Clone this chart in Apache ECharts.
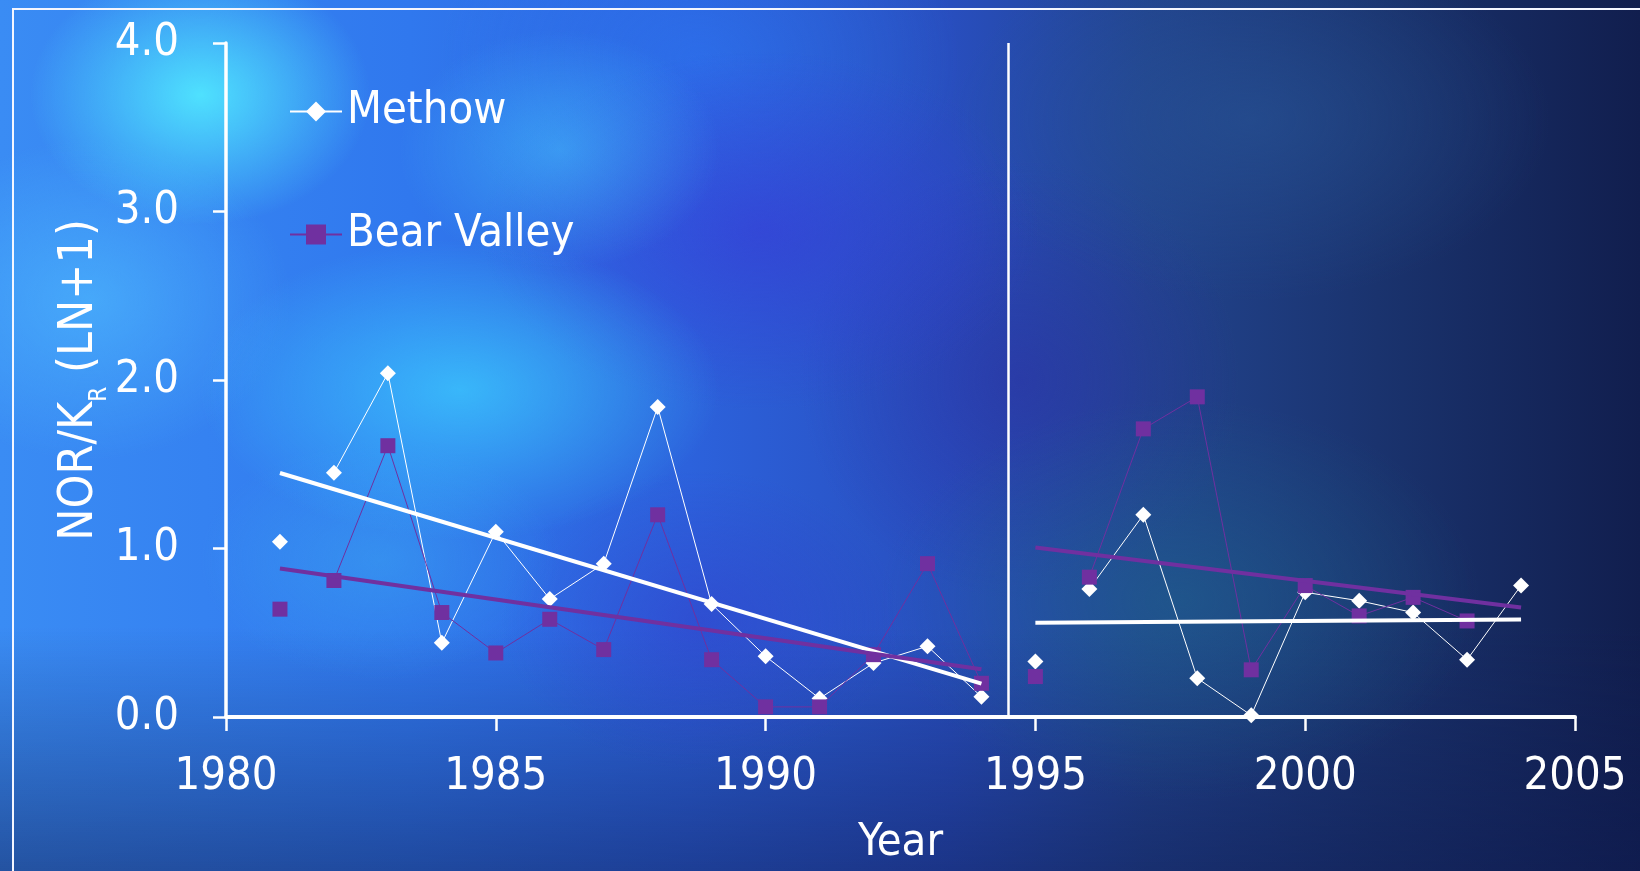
<!DOCTYPE html>
<html>
<head>
<meta charset="utf-8">
<script src="https://cdn.jsdelivr.net/npm/echarts@6/dist/echarts.min.js"></script>
<style>
  html, body { margin: 0; padding: 0; width: 1640px; height: 871px; overflow: hidden; }
  body {
    background:
      radial-gradient(ellipse 170px 130px at 200px 95px, rgba(80,230,255,0.95), rgba(80,230,255,0)),
      radial-gradient(ellipse 260px 150px at 460px 390px, rgba(60,205,255,0.75), rgba(60,205,255,0)),
      radial-gradient(ellipse 160px 120px at 560px 150px, rgba(70,200,255,0.5), rgba(70,200,255,0)),
      radial-gradient(ellipse 200px 160px at 90px 300px, rgba(80,190,255,0.6), rgba(80,190,255,0)),
      radial-gradient(ellipse 180px 120px at 380px 560px, rgba(60,170,240,0.45), rgba(60,170,240,0)),
      radial-gradient(ellipse 280px 180px at 760px 230px, rgba(55,60,215,0.65), rgba(55,60,215,0)),
      radial-gradient(ellipse 200px 150px at 700px 620px, rgba(50,60,200,0.5), rgba(50,60,200,0)),
      radial-gradient(ellipse 260px 200px at 700px 60px, rgba(45,120,245,0.5), rgba(45,120,245,0)),
      radial-gradient(ellipse 300px 200px at 1180px 600px, rgba(30,100,140,0.55), rgba(30,100,140,0)),
      radial-gradient(ellipse 300px 180px at 1250px 120px, rgba(40,85,150,0.55), rgba(40,85,150,0)),
      radial-gradient(ellipse 220px 220px at 1020px 380px, rgba(45,45,160,0.5), rgba(45,45,160,0)),
      linear-gradient(to bottom, rgba(10,20,70,0) 0%, rgba(10,20,70,0) 72%, rgba(14,26,80,0.5) 100%),
      linear-gradient(to right, #3a8cf4 0%, #3078ee 25%, #2c62dc 42%, #284ebe 58%, #22448f 70%, #1a336e 84%, #111e4e 100%);
  }
  #frame { position: absolute; left: 12px; top: 8px; width: 1700px; height: 900px; border-top: 2px solid #f4f6ff; border-left: 2px solid #f4f6ff; }
  #chart { position: absolute; left: 0; top: 0; width: 1640px; height: 871px; }
</style>
</head>
<body>
<div id="frame"></div>
<div id="chart"></div>
<script>
// ---- data ----
const years = [1981, 1982, 1983, 1984, 1985, 1986, 1987, 1988, 1989, 1990, 1991, 1992,
               1993, 1994, 1995, 1996, 1997, 1998, 1999, 2000, 2001, 2002, 2003, 2004];
const methow = [1.04, 1.45, 2.04, 0.44, 1.10, 0.70, 0.91, 1.84, 0.67, 0.36, 0.11, 0.32,
                0.42, 0.12, 0.33, 0.76, 1.20, 0.23, 0.01, 0.74, 0.69, 0.62, 0.34, 0.78];
const bearValley = [0.64, 0.81, 1.61, 0.62, 0.38, 0.58, 0.40, 1.20, 0.34, 0.06, 0.06, 0.37,
                    0.91, 0.20, 0.24, 0.83, 1.71, 1.90, 0.28, 0.78, 0.60, 0.71, 0.57, null];
// years at which a new (unjoined) run of points begins
const runStarts = [1981, 1982, 1995, 1996];
// trend lines (end points)
const trendEarlyYears = [1981, 1994];
const trendLateYears = [1995, 2004];
const methowTrendEarly = [1.448, 0.198];
const methowTrendLate = [0.560, 0.578];
const bearTrendEarly = [0.881, 0.283];
const bearTrendLate = [1.006, 0.650];
const dividerYear = 1994.5;
// axes
const xTicks = [1980, 1985, 1990, 1995, 2000, 2005];
const xTickLabels = ['1980', '1985', '1990', '1995', '2000', '2005'];
const yTicks = [0, 1, 2, 3, 4];
const yTickLabels = ['0.0', '1.0', '2.0', '3.0', '4.0'];

const FONT = "'DejaVu Sans Condensed', 'DejaVu Sans', sans-serif";
const WHITE = '#ffffff';
const PURPLE = '#7030a0';

function buildRuns(values) {
  const d = [];
  years.forEach((y, i) => {
    if (i > 0 && runStarts.includes(y)) d.push([y, '-']);
    d.push([y, values[i] == null ? '-' : values[i]]);
  });
  return d;
}
function pairs(xs, ys) { return xs.map((x, i) => [x, ys[i]]); }

const chart = echarts.init(document.getElementById('chart'), null, { renderer: 'canvas' });
chart.setOption({
  animation: false,
  backgroundColor: 'transparent',
  textStyle: { fontFamily: FONT },
  grid: { left: 226, right: 65, top: 43, bottom: 154, containLabel: false },
  legend: {
    data: ['Methow', 'Bear Valley'],
    orient: 'vertical',
    left: 284, top: 84,
    itemWidth: 52, itemHeight: 25, itemGap: 78,
    textStyle: { color: WHITE, fontSize: 45, fontFamily: FONT },
    selectedMode: false
  },
  xAxis: {
    type: 'value',
    min: xTicks[0], max: xTicks[xTicks.length - 1], interval: xTicks[1] - xTicks[0],
    axisLine: { show: true, onZero: false, lineStyle: { color: WHITE, width: 4 } },
    axisTick: { show: true, length: 14, lineStyle: { color: WHITE, width: 2.5 } },
    axisLabel: {
      color: WHITE, fontSize: 45, fontFamily: FONT, margin: 38,
      formatter: v => xTickLabels[xTicks.indexOf(v)]
    },
    splitLine: { show: false },
    name: 'Year', nameLocation: 'middle', nameGap: 104, nameMoveOverlap: false,
    nameTextStyle: { color: WHITE, fontSize: 45, fontFamily: FONT }
  },
  yAxis: {
    type: 'value',
    min: yTicks[0], max: yTicks[yTicks.length - 1], interval: yTicks[1] - yTicks[0],
    axisLine: { show: true, lineStyle: { color: WHITE, width: 3.5 } },
    axisTick: { show: true, length: 13, lineStyle: { color: WHITE, width: 2.5 } },
    axisLabel: {
      color: WHITE, fontSize: 45, fontFamily: FONT, margin: 47,
      formatter: v => yTickLabels[yTicks.indexOf(v)]
    },
    splitLine: { show: false },
    name: '{n|NOR/K}{s|R}{n| (LN+1)}',
    nameLocation: 'middle', nameGap: 118, nameMoveOverlap: false,
    nameTextStyle: {
      color: WHITE, fontFamily: FONT,
      rich: {
        n: { fontSize: 48, lineHeight: 52, color: WHITE, fontFamily: FONT, verticalAlign: 'top' },
        s: { fontSize: 24, lineHeight: 24, color: WHITE, fontFamily: FONT, verticalAlign: 'top', padding: [32, 0, 0, 0] }
      }
    }
  },
  series: [
    {
      name: 'Methow', type: 'line', data: buildRuns(methow),
      symbol: 'diamond', symbolSize: 16, showSymbol: true, connectNulls: false,
      itemStyle: { color: WHITE }, lineStyle: { color: WHITE, width: 1 }, z: 3
    },
    {
      name: 'Bear Valley', type: 'line', data: buildRuns(bearValley),
      symbol: 'rect', symbolSize: 15, showSymbol: true, connectNulls: false,
      itemStyle: { color: PURPLE }, lineStyle: { color: PURPLE, width: 1 }, z: 4
    },
    {
      name: 'Methow trend 1', type: 'line', data: pairs(trendEarlyYears, methowTrendEarly),
      showSymbol: false, lineStyle: { color: WHITE, width: 4 }, z: 5,
      markLine: {
        silent: true, symbol: ['none', 'none'], label: { show: false },
        lineStyle: { color: WHITE, width: 2.5, type: 'solid' },
        data: [{ xAxis: dividerYear }]
      }
    },
    {
      name: 'Bear Valley trend 1', type: 'line', data: pairs(trendEarlyYears, bearTrendEarly),
      showSymbol: false, lineStyle: { color: PURPLE, width: 4 }, z: 5
    },
    {
      name: 'Methow trend 2', type: 'line', data: pairs(trendLateYears, methowTrendLate),
      showSymbol: false, lineStyle: { color: WHITE, width: 4 }, z: 5
    },
    {
      name: 'Bear Valley trend 2', type: 'line', data: pairs(trendLateYears, bearTrendLate),
      showSymbol: false, lineStyle: { color: PURPLE, width: 4 }, z: 5
    }
  ]
});
</script>
</body>
</html>
